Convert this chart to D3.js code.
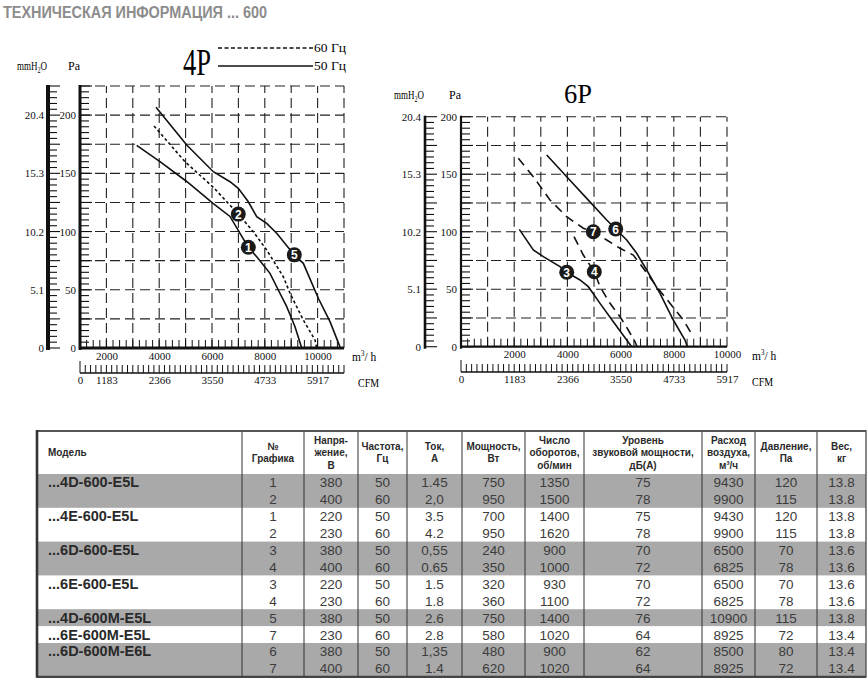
<!DOCTYPE html>
<html>
<head>
<meta charset="utf-8">
<script src="https://cdn.jsdelivr.net/npm/d3@7"></script>
<style>
body { margin: 0; background: #fff; }
svg { display: block; }
.serif { font-family: "Liberation Serif", "DejaVu Serif", serif; }
.sans { font-family: "Liberation Sans", Arial, sans-serif; }
</style>
</head>
<body>
<script>
// ---------------------- DATA ----------------------

// axis labels
const flowTicks = [2000, 4000, 6000, 8000, 10000];
const cfmTicks4P = [1000, 2000, 4000, 6000, 8000, 10000]; // m3/h position of each CFM label
const cfmTicks6P = [0, 2000, 4000, 6000, 8000, 10000];
const cfmLabels = ["0", "1183", "2366", "3550", "4733", "5917"];
const paTicks = [0, 50, 100, 150, 200];
const mmLabels = ["0", "5.1", "10.2", "15.3", "20.4"];

// curves: [m3/h, Pa]
const curve1 = [[3148,174],[4030,160],[5042,143],[6050,124],[6682,113],[7061,98.5],[7375,86.5],[7693,78.4],[8197,64.1],[8512,49.8],[8830,35.5],[9144,18.3],[9398,0]];
const curve2 = [[3803,190.7],[4977,160],[6050,138],[6996,115],[7564,99.9],[8071,84.2],[8701,61.2],[8955,47],[9459,24],[9902,6.9],[9966,0]];
const curve5 = [[3879,206.7],[5042,174.3],[6050,151.4],[6682,142.8],[6996,137.1],[7375,125.6],[7693,112.8],[8071,107],[8450,98.5],[9117,79.9],[9459,72.7],[10027,42.7],[10470,22.6],[10848,1]];
const curve3 = [[2192,102],[2718,84.1],[3094,78.3],[3722,69.6],[3974,64.7],[4474,58],[4786,52.2],[5226,37.7],[5726,21.7],[6229,5.8],[6417,0]];
const curve4 = [[4248,95.7],[4598,79.7],[5011,65.2],[5226,52.2],[5602,37.7],[5977,26.1],[6289,14.5],[6541,4.3],[6620,0]];
const curve6 = [[3222,166.7],[3974,147.8],[4726,129],[5477,110.2],[5816,102.3],[6229,92.8],[6605,81.2],[6981,66.7],[7481,46.4],[7981,23.2],[8421,5.8],[8508,0]];
const curve7 = [[2154,163.8],[2718,147.8],[3346,127.6],[3974,113],[4598,103],[4974,100],[5477,92.8],[5977,85.6],[6477,79.7],[6853,68.2],[7357,52.2],[7857,37.7],[8357,23.2],[8733,8.7]];

// numbered markers
const markers4P = [{n: 1, q: 7375, p: 86.5}, {n: 2, q: 6996, p: 115}, {n: 5, q: 9117, p: 80}];
const markers6P = [{n: 3, q: 3974, p: 64.7}, {n: 4, q: 5011, p: 65.2}, {n: 7, q: 4974, p: 100}, {n: 6, q: 5816, p: 102.3}];

// table
const headers = [["Модель"], ["№", "Графика"], ["Напря-", "жение,", "В"], ["Частота,", "Гц"], ["Ток,", "А"],
  ["Мощность,", "Вт"], ["Число", "оборотов,", "об/мин"], ["Уровень", "звуковой мощности,", "дБ(А)"],
  ["Расход", "воздуха,", "м³/ч"], ["Давление,", "Па"], ["Вес,", "кг"]];
const models = ["...4D-600-E5L", "...4E-600-E5L", "...6D-600-E5L", "...6E-600-E5L", "...4D-600M-E5L", "...6E-600M-E5L", "...6D-600M-E6L"];
const modelRows = [
  [["1","380","50","1.45","750","1350","75","9430","120","13.8"], ["2","400","60","2,0","950","1500","78","9900","115","13.8"]],
  [["1","220","50","3.5","700","1400","75","9430","120","13.8"], ["2","230","60","4.2","950","1620","78","9900","115","13.8"]],
  [["3","380","50","0,55","240","900","70","6500","70","13.6"], ["4","400","60","0.65","350","1000","72","6825","78","13.6"]],
  [["3","220","50","1.5","320","930","70","6500","70","13.6"], ["4","230","60","1.8","360","1100","72","6825","78","13.6"]],
  [["5","380","50","2.6","750","1400","76","10900","115","13.8"]],
  [["7","230","60","2.8","580","1020","64","8925","72","13.4"]],
  [["6","380","50","1,35","480","900","62","8500","80","13.4"], ["7","400","60","1.4","620","1020","64","8925","72","13.4"]]
];

// ---------------------- DRAWING ----------------------

const svg = d3.select("body").append("svg").attr("width", 868).attr("height", 680);

svg.append("text").attr("class", "sans")
  .attr("x", 3).attr("y", 18)
  .attr("font-size", 16).attr("font-weight", "bold").attr("fill", "#8c8c8c")
  .attr("textLength", 264).attr("lengthAdjust", "spacingAndGlyphs")
  .text("ТЕХНИЧЕСКАЯ ИНФОРМАЦИЯ  ... 600");

// strip the axis defaults so the labels take the serif font of the chart
function plainAxis(a) {
  a.attr("font-family", null).attr("font-size", 11);
  a.select(".domain").remove();
  a.selectAll("text").attr("fill", "#111");
}

// a label built of pieces (sub/superscripts), each piece its own text, squeezed by sx
function pieceLabel(parent, x, y, sx, pieces) {
  const lg = parent.append("g").attr("transform", `translate(${x},${y}) scale(${sx},1)`);
  let cx = 0;
  pieces.forEach(([t, size, dy]) => {
    const el = lg.append("text").attr("x", cx).attr("y", dy).attr("font-size", size).text(t);
    cx += el.node().getComputedTextLength();
  });
  return lg;
}

function drawChart(c) {
  const g = svg.append("g").attr("class", "serif");
  const x = d3.scaleLinear(c.xDomain, c.xRange);
  const y = d3.scaleLinear(c.yDomain, c.yRange);
  const [x0, x1] = c.xRange;
  const [yb, yt] = c.yRange;

  // dashed grid
  g.append("g").selectAll("line").data(d3.range(25, c.yDomain[1] + 1, 25)).join("line")
    .attr("x1", x0).attr("x2", x1).attr("y1", d => y(d)).attr("y2", d => y(d))
    .attr("stroke", "#222").attr("stroke-width", 1.1).attr("stroke-dasharray", "10,5");
  g.append("g").selectAll("line").data(c.gridX).join("line")
    .attr("x1", d => x(d)).attr("x2", d => x(d)).attr("y1", yb).attr("y2", yt)
    .attr("stroke", "#222").attr("stroke-width", 1.1).attr("stroke-dasharray", "10,5");

  // small ticks on the flow axis
  g.append("g").selectAll("line").data(d3.range(c.xDomain[0] + 250, c.xDomain[1], 250)).join("line")
    .attr("x1", d => x(d)).attr("x2", d => x(d)).attr("y1", yb).attr("y2", yb - 8)
    .attr("stroke", "#111").attr("stroke-width", 1);

  // Pa axis and mmH2O axis with their ticks
  const paMinor = d3.range(0, c.yDomain[1] + 0.1, 5);
  [[x0, c.paW], [c.mmX, c.mmW]].forEach(([ax, w]) => {
    g.append("line").attr("x1", ax).attr("x2", ax).attr("y1", yb + 2).attr("y2", yt - 1)
      .attr("stroke", "#111").attr("stroke-width", w);
    g.append("g").selectAll("line").data(paMinor).join("line")
      .attr("x1", ax).attr("x2", d => ax + (d % 25 === 0 ? 12 : 9))
      .attr("y1", d => y(d)).attr("y2", d => y(d))
      .attr("stroke", "#111").attr("stroke-width", 1.1);
  });

  g.append("g").attr("transform", `translate(${x0 - 2},0)`)
    .call(d3.axisLeft(y).tickValues(paTicks).tickSize(0).tickPadding(2))
    .call(plainAxis);
  g.append("g").attr("transform", `translate(${c.mmX - 2},0)`)
    .call(d3.axisLeft(y).tickValues(paTicks).tickFormat((d, i) => mmLabels[i]).tickSize(0).tickPadding(2))
    .call(plainAxis);

  // bottom flow axis
  g.append("line").attr("x1", x0).attr("x2", x1).attr("y1", yb).attr("y2", yb)
    .attr("stroke", "#111").attr("stroke-width", c.paW);
  g.append("g").attr("transform", `translate(0,${yb})`)
    .call(d3.axisBottom(x).tickValues(flowTicks).tickFormat(d => String(d)).tickSize(0).tickPadding(4))
    .call(plainAxis);

  // CFM axis
  g.append("line").attr("x1", x(c.cfmTicks[0])).attr("x2", x1).attr("y1", c.cfmY).attr("y2", c.cfmY)
    .attr("stroke", "#111").attr("stroke-width", 1.3);
  g.append("g").selectAll("line").data(d3.range(c.cfmTicks[0], c.xDomain[1] + 1, 200)).join("line")
    .attr("x1", d => x(d)).attr("x2", d => x(d)).attr("y1", c.cfmY)
    .attr("y2", (d, i) => c.cfmY - (i === 0 ? 12 : 8))
    .attr("stroke", "#111").attr("stroke-width", 1);
  g.append("g").attr("transform", `translate(0,${c.cfmY})`)
    .call(d3.axisBottom(x).tickValues(c.cfmTicks).tickFormat((d, i) => cfmLabels[i]).tickSize(0).tickPadding(3))
    .call(plainAxis);

  // unit labels
  pieceLabel(g, c.unitX, yb + 13, 0.88, [["m", 13, 0], ["3", 8, -5], [" / h", 13, 0]]);
  g.append("text").attr("x", c.unitX + c.cfmDx).attr("y", c.cfmY + 14).attr("font-size", 13)
    .attr("textLength", 21).attr("lengthAdjust", "spacingAndGlyphs").text("CFM");
  pieceLabel(g, c.mmX - 31, c.unitY, 0.75, [["mmH", 12, 0], ["2", 8, 3], ["O", 12, 0]]);
  g.append("text").attr("x", x0 - 6).attr("y", c.unitY).attr("font-size", 12)
    .attr("text-anchor", "middle").text("Pa");

  // title
  g.append("text").attr("x", c.titleX).attr("y", c.titleY).attr("font-size", c.titleSize)
    .attr("text-anchor", "middle").attr("textLength", 28).attr("lengthAdjust", "spacingAndGlyphs")
    .text(c.title);

  // curves
  const line = d3.line().x(d => x(d[0])).y(d => y(d[1]));
  g.append("g").selectAll("path").data(c.curves).join("path")
    .attr("d", d => line(d.pts))
    .attr("fill", "none").attr("stroke", "#111").attr("stroke-width", 1.6)
    .attr("stroke-dasharray", d => d.dash);

  // numbered markers
  const m = g.append("g").selectAll("g").data(c.markers).join("g")
    .attr("transform", d => `translate(${x(d.q)},${y(d.p)})`);
  m.append("circle").attr("r", 7.5).attr("fill", "#1a1a1a");
  m.append("text").attr("class", "sans").attr("y", 4.5).attr("text-anchor", "middle")
    .attr("font-size", 12).attr("font-weight", "bold").attr("fill", "#fff").text(d => d.n);

  return g;
}

const g4 = drawChart({
  title: "4P", titleX: 197, titleY: 75, titleSize: 38,
  xDomain: [1000, 11000], xRange: [80, 344],
  yDomain: [0, 225], yRange: [348, 86],
  gridX: d3.range(2000, 11001, 1000),
  mmX: 48, paW: 3, mmW: 4, unitY: 70, unitX: 352, cfmDx: 6,
  cfmY: 373, cfmTicks: cfmTicks4P,
  curves: [{pts: curve1, dash: null}, {pts: curve2, dash: "3,2.5"}, {pts: curve5, dash: null}],
  markers: markers4P
});

drawChart({
  title: "6P", titleX: 578, titleY: 103, titleSize: 28,
  xDomain: [0, 10000], xRange: [461, 727],
  yDomain: [0, 200], yRange: [346.7, 116.7],
  gridX: d3.range(1000, 10001, 1000),
  mmX: 425, paW: 2.2, mmW: 2.6, unitY: 99, unitX: 752, cfmDx: 0,
  cfmY: 372, cfmTicks: cfmTicks6P,
  curves: [{pts: curve3, dash: null}, {pts: curve4, dash: "9,6"}, {pts: curve6, dash: null}, {pts: curve7, dash: "9,6"}],
  markers: markers6P
});

// legend of the 4P chart
[["60 Гц", "4,2.5", 48], ["50 Гц", null, 66]].forEach(([label, dash, ly]) => {
  g4.append("line").attr("x1", 218).attr("x2", 313).attr("y1", ly).attr("y2", ly)
    .attr("stroke", "#111").attr("stroke-width", 1.6).attr("stroke-dasharray", dash);
  g4.append("text").attr("x", 314).attr("y", ly + 4).attr("font-size", 13)
    .attr("textLength", 32).attr("lengthAdjust", "spacingAndGlyphs").text(label);
});

// ---------------------- TABLE ----------------------

const colX = [37, 242, 304, 358, 407, 462, 525, 584, 702, 755, 817, 866];
const headTop = 431, headBottom = 474, lineH = 16.9;
const table = svg.append("g").attr("class", "sans");

let lineIndex = 0;
const bands = [];
const cells = [];
models.forEach((model, gi) => {
  bands.push({start: lineIndex, count: modelRows[gi].length, shade: gi % 2 === 0});
  cells.push({text: model, col: 0, line: lineIndex});
  modelRows[gi].forEach(r => {
    r.forEach((v, ci) => cells.push({text: v, col: ci + 1, line: lineIndex}));
    lineIndex++;
  });
});
const totalLines = lineIndex;
const rowY = i => headBottom + i * lineH;
const tableBottom = rowY(totalLines);

table.selectAll("rect.band").data(bands.filter(b => b.shade)).join("rect")
  .attr("class", "band")
  .attr("x", colX[0]).attr("width", colX[colX.length - 1] - colX[0])
  .attr("y", d => rowY(d.start)).attr("height", d => d.count * lineH)
  .attr("fill", "#a9a9a9");

// column separators
table.selectAll("line.sep").data(colX.slice(1, -1)).join("line")
  .attr("class", "sep")
  .attr("x1", d => d).attr("x2", d => d).attr("y1", headTop).attr("y2", tableBottom)
  .attr("stroke", "#333").attr("stroke-width", 1);

// outer border
table.append("line").attr("x1", colX[0]).attr("x2", colX[11]).attr("y1", headTop).attr("y2", headTop)
  .attr("stroke", "#555").attr("stroke-width", 2.2);
table.append("line").attr("x1", colX[0]).attr("x2", colX[11]).attr("y1", tableBottom).attr("y2", tableBottom)
  .attr("stroke", "#444").attr("stroke-width", 2.2);
table.append("line").attr("x1", colX[0]).attr("x2", colX[0]).attr("y1", headTop - 1).attr("y2", tableBottom + 1)
  .attr("stroke", "#333").attr("stroke-width", 2.6);
table.append("line").attr("x1", colX[11]).attr("x2", colX[11]).attr("y1", headTop - 1).attr("y2", tableBottom + 1)
  .attr("stroke", "#555").attr("stroke-width", 1.4);

// header
headers.forEach((lines, ci) => {
  const cx = ci === 0 ? colX[0] + 11 : (colX[ci] + colX[ci + 1]) / 2;
  const step = 12.2;
  const cy = (headTop + headBottom) / 2 - (lines.length - 1) * step / 2;
  lines.forEach((t, li) => {
    table.append("text")
      .attr("transform", `translate(${cx},${cy + li * step + 3.8}) scale(0.95,1)`)
      .attr("text-anchor", ci === 0 ? "start" : "middle")
      .attr("font-size", 10.5).attr("font-weight", "bold").attr("fill", "#2a2a2a")
      .text(t);
  });
});

// body
table.selectAll("text.cell").data(cells).join("text")
  .attr("class", "cell")
  .attr("x", d => d.col === 0 ? colX[0] + 11 : (colX[d.col] + colX[d.col + 1]) / 2)
  .attr("y", d => rowY(d.line) + lineH / 2 + 5)
  .attr("text-anchor", d => d.col === 0 ? "start" : "middle")
  .attr("font-size", d => d.col === 0 ? 14.5 : 13.5)
  .attr("font-weight", d => d.col === 0 ? "bold" : "normal")
  .attr("fill", d => d.col === 0 ? "#2a2a2a" : "#3c3c3c")
  .text(d => d.text);
</script>
</body>
</html>
